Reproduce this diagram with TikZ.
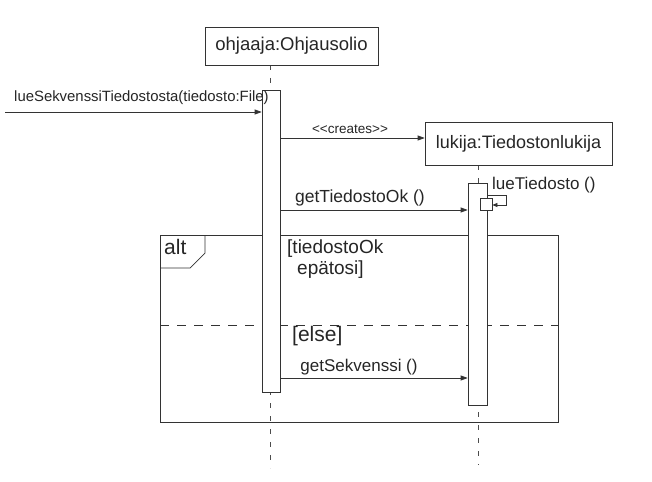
\documentclass[tikz,border=0pt]{standalone}
\usepackage{fontspec}
\setmainfont{Liberation Sans}
\usetikzlibrary{arrows.meta,positioning}
\newcommand{\fsz}[1]{\fontsize{#1}{#1}\selectfont}
\begin{document}
\begin{tikzpicture}[x=1pt,y=-1pt,
  ink/.style={draw=black!80,line width=0.7pt},
  objbox/.style={ink,fill=white,inner sep=0pt},
  actbox/.style={ink,fill=white,inner sep=0pt},
  life/.style={draw=black!70,line width=0.6pt,dash pattern=on 5pt off 8pt},
  msg/.style={ink,-{Triangle[length=7pt,width=5pt]}},
  lbl/.style={inner sep=1pt,text=black!85}]
\useasboundingbox (0,0) rectangle (652,481);
\fill[white] (0,0) rectangle (652,481);
% lifelines
\coordinate (l1top) at (270,65);
\coordinate (l1bot) at (270,468);
\coordinate (l2top) at (478,165);
\coordinate (l2bot) at (478,465);
\draw[life] (l1top) -- (l1bot);
\draw[life] (l2top) -- (l2bot);
% objects
\node[objbox,minimum width=173pt,minimum height=38pt,font=\fsz{18.5},text=black!85] (ohj) at (291.5,46) {ohjaaja:Ohjausolio};
\node[objbox,minimum width=187pt,minimum height=43pt,font=\fsz{18},text=black!85] (luk) at (518.5,143.5) {lukija:Tiedostonlukija};
% alt frame
\node[ink,minimum width=398pt,minimum height=187pt,inner sep=0pt] (alt) at (359,328.5) {};
\draw[ink] (160,268) -- (190,268) -- (205,253) -- (205,235);
\node[lbl,anchor=north west,font=\fsz{21}] (altl) at (163,238) {alt};
\coordinate (sepl) at (160,325);
\coordinate (sepr) at (558,325);
\draw[ink,dash pattern=on 9pt off 8pt] (sepl) -- (sepr);
% activations
\node[actbox,minimum width=18pt,minimum height=302pt] (a1) at (271,241) {};
\node[actbox,minimum width=19pt,minimum height=222pt] (a2) at (477.5,294) {};
\node[actbox,minimum width=12pt,minimum height=12pt] (a3) at (486,204) {};
% found message
\coordinate (start) at (5,112);
\draw[msg] (start) -- (a1.west |- start);
\node[lbl,anchor=south west,font=\fsz{14.9}] (m0) at (13,106) {lueSekvenssiTiedostosta(tiedosto:File)};
% creates
\coordinate (c1) at (280,138);
\draw[msg] (c1) -- (luk.west |- c1);
\node[lbl,font=\fsz{13.5}] (m1) at (350,129) {{<}{<}creates{>}{>}};
% getTiedostoOk
\coordinate (g1) at (280,210);
\draw[msg] (g1) -- (a2.west |- g1);
\node[lbl,font=\fsz{17.5}] (m2) at (360,198) {getTiedostoOk ()};
% self call
\coordinate (s1) at (487,195);
\coordinate (s2) at (506,195);
\coordinate (s3) at (506,205);
\draw[ink,-{Triangle[length=5pt,width=4pt]}] (s1) -- (s2) -- (s3) -- (a3.east |- s3);
\node[lbl,anchor=west,font=\fsz{17}] (m3) at (491,185) {lueTiedosto ()};
% guards
\node[lbl,align=left,anchor=north west,font=\fsz{19},text depth=0pt] (gd1) at (286,239) {[tiedostoOk\\[2pt]\hspace*{10pt}epätosi]};
\node[lbl,anchor=north west,font=\fsz{21}] (gd2) at (291,325) {[else]};
% getSekvenssi
\coordinate (q1) at (280,378);
\draw[msg] (q1) -- (a2.west |- q1);
\node[lbl,font=\fsz{17}] (m4) at (359,367) {getSekvenssi ()};
\end{tikzpicture}
\end{document}
